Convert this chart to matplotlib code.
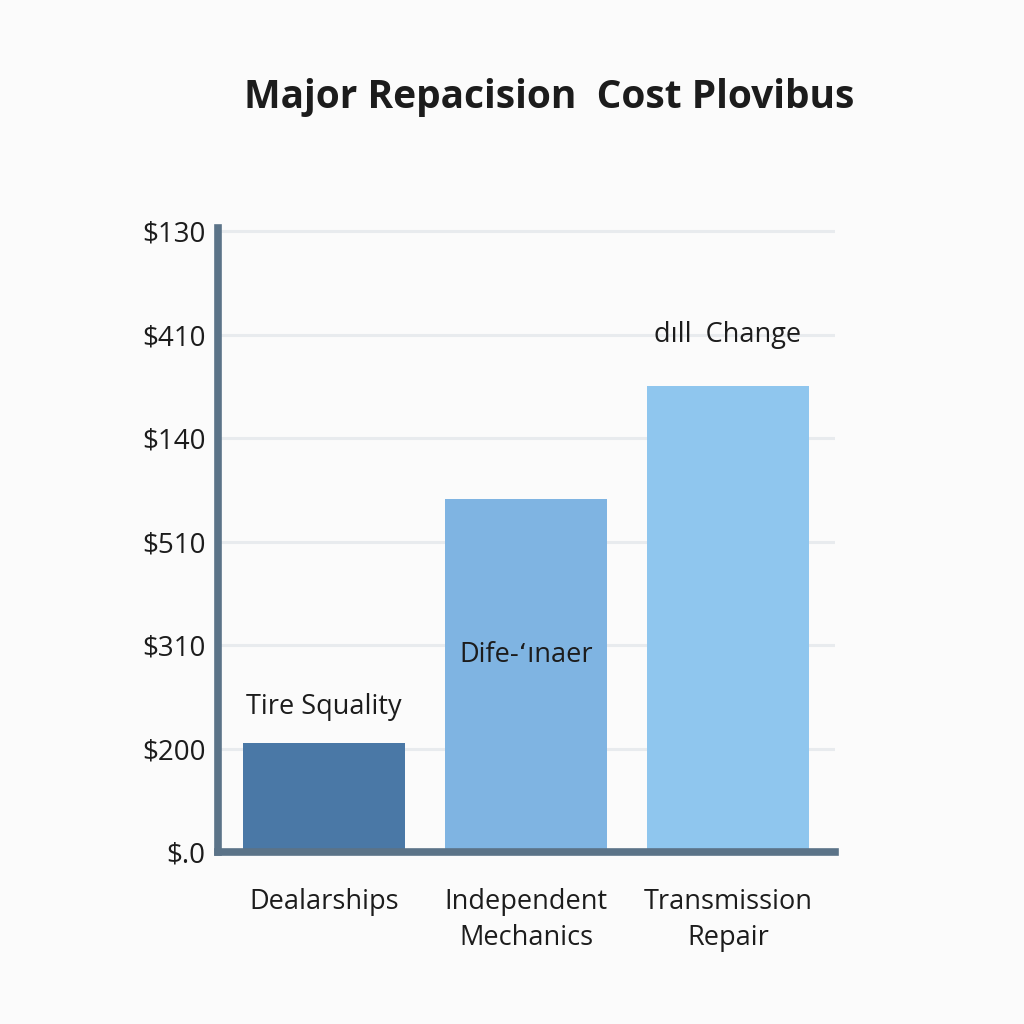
import numpy as np
import matplotlib.pyplot as plt

# Data
categories  = ["Dealarships", "Independent\nMechanics", "Transmission\nRepair"]
values      = [1.05, 3.41, 4.51]
bar_notes   = ["Tire Squality", "Dife-\u02bb\u0131naer", "d\u0131ll  Change"]
note_levels = [1.40, 1.90, 5.0]
tick_pos    = [0, 1, 2, 3, 4, 5, 6]
tick_labels = ["$.0", "$200", "$310", "$510", "$140", "$410", "$130"]

BAR_COLOURS  = ["#4a78a6", "#7fb4e2", "#8fc6ee"]
SPINE_COLOUR = "#5b7388"
GRID_COLOUR  = "#e8ebee"
BG_COLOUR    = "#fbfbfb"
TEXT_COLOUR  = "#1c1c1c"

plt.rcParams['font.family'] = ['Open Sans', 'DejaVu Sans']

fig = plt.figure(figsize=(10.24, 10.24), dpi=100, facecolor=BG_COLOUR)
ax = fig.add_axes([0.213, 0.168, 0.6025, 0.609])
ax.set_facecolor(BG_COLOUR)

x = np.arange(len(categories))
ax.bar(x, values, width=0.8, color=BAR_COLOURS, zorder=2)

# Notes over / inside bars
for xi, note, lvl in zip(x, bar_notes, note_levels):
    ax.text(xi, lvl, note, ha='center', va='center', fontsize=19.5, color=TEXT_COLOUR, zorder=3)

ax.set_xlim(-0.525, 2.53)
ax.set_ylim(0, 6.03)
ax.set_yticks(tick_pos)
ax.set_yticklabels(tick_labels, fontsize=20, color=TEXT_COLOUR)
ax.set_xticks(x)
ax.set_xticklabels(categories, fontsize=19.5, color=TEXT_COLOUR, linespacing=1.4)
ax.tick_params(axis='both', length=0)
ax.tick_params(axis='y', pad=9)
ax.tick_params(axis='x', pad=26)

ax.yaxis.grid(True, color=GRID_COLOUR, linewidth=2.2, zorder=0)
ax.set_axisbelow(True)

for side in ['top', 'right']:
    ax.spines[side].set_visible(False)
for side in ['left', 'bottom']:
    ax.spines[side].set_color(SPINE_COLOUR)
    ax.spines[side].set_linewidth(5.5)
    ax.spines[side].set_zorder(4)

fig.text(0.536, 0.905, "Major Repacision  Cost Plovibus", ha='center', va='center',
         fontsize=28, fontweight='bold', color=TEXT_COLOUR)

fig.savefig("out.png", dpi=100, facecolor=BG_COLOUR)
